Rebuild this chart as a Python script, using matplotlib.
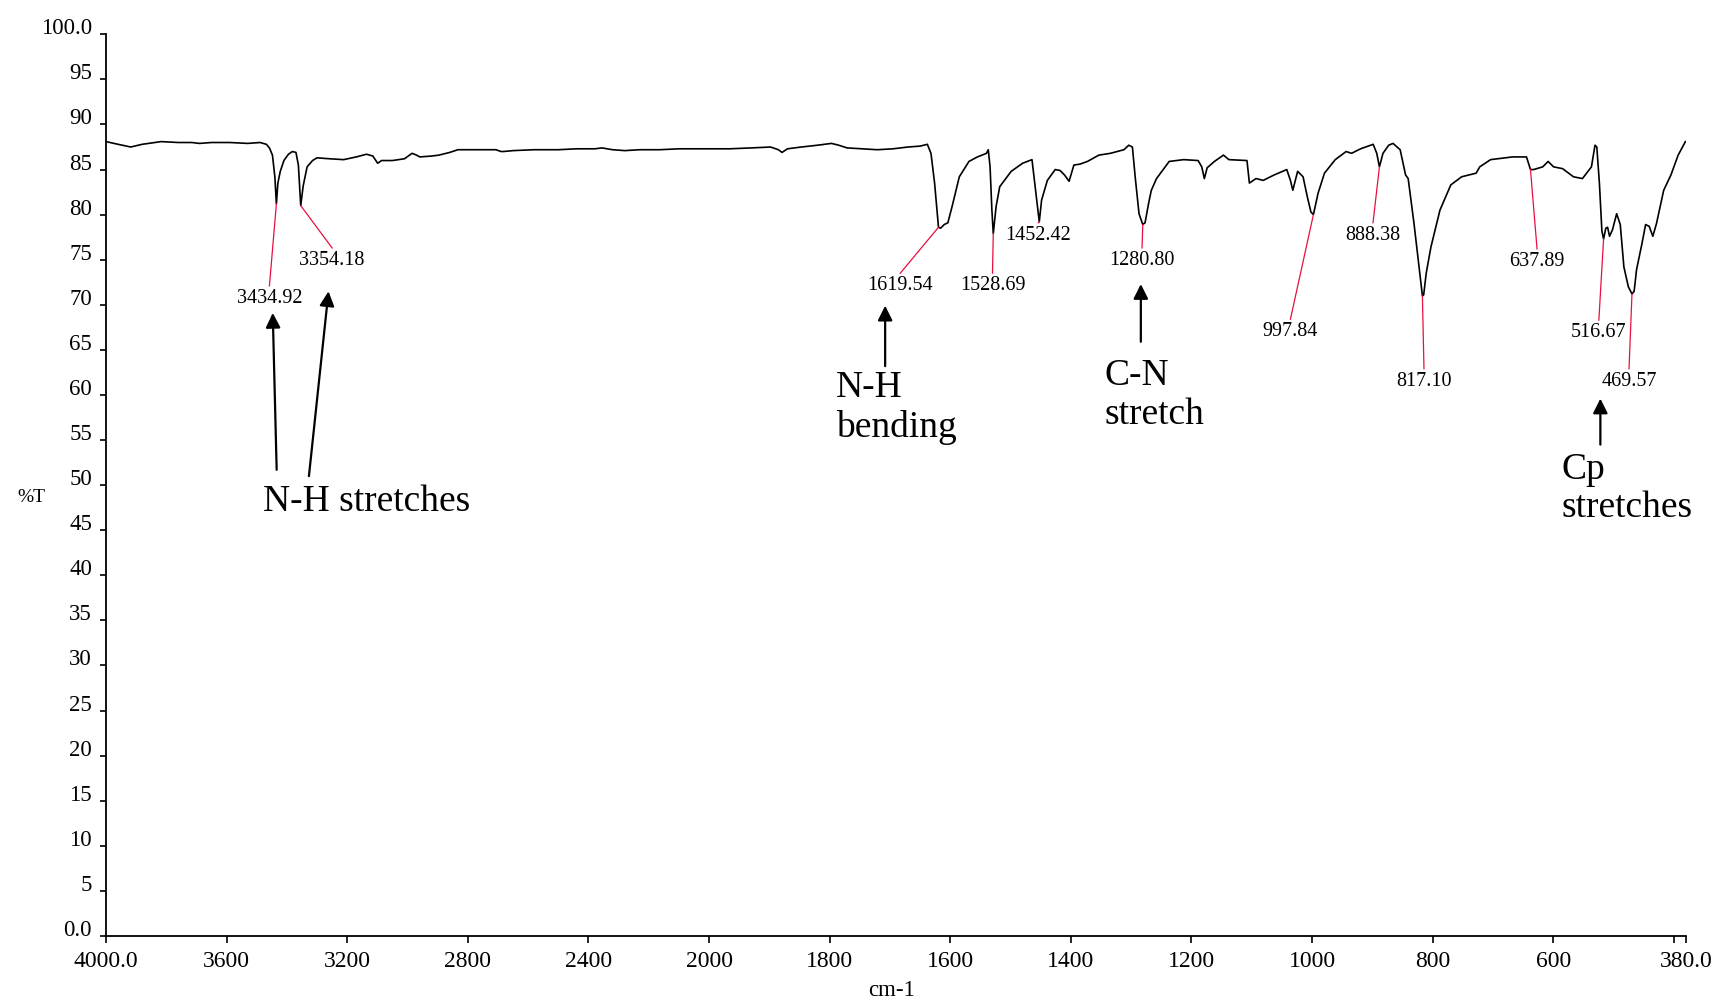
import numpy as np
import matplotlib
matplotlib.use("Agg")
import matplotlib.pyplot as plt

plt.rcParams['font.family'] = ['Liberation Serif', 'DejaVu Serif']

# IR spectrum, wavenumber (cm-1) vs %T
wavenumber = [
    4000, 3960, 3918, 3880, 3817, 3760, 3716, 3690, 3650, 3590, 3530, 3489,
    3468, 3458, 3448, 3440, 3434.92, 3430, 3422, 3410, 3395, 3382, 3370, 3362,
    3354.18, 3346, 3333, 3315, 3300, 3260, 3212, 3170, 3136, 3115, 3099, 3086,
    3050, 3010, 2985, 2970, 2959, 2920, 2896, 2860, 2833, 2780, 2707, 2690,
    2682, 2650, 2581, 2500, 2440, 2379, 2355, 2320, 2279, 2230, 2164, 2100,
    2062, 2000, 1967, 1930, 1898, 1885, 1879, 1870, 1847, 1820, 1797, 1785,
    1771, 1745, 1721, 1695, 1670, 1650, 1638, 1632, 1626, 1619.54, 1616, 1610,
    1604, 1597, 1585, 1569, 1555, 1540, 1537, 1534, 1531, 1528.69, 1524, 1518,
    1499, 1480, 1464.5, 1460, 1452.42, 1448.6, 1439, 1426, 1418, 1410.6, 1403,
    1395, 1385, 1372.6, 1353.6, 1334.5, 1312, 1304, 1298, 1293.4, 1287, 1280.80,
    1277, 1271, 1266.6, 1258, 1248, 1237, 1213, 1189, 1183, 1178.7, 1174, 1162,
    1147, 1138, 1108, 1104, 1093, 1081, 1063, 1042, 1036, 1032, 1024, 1015,
    1008, 1002, 997.84, 990, 979.5, 961.6, 943.6, 934.6, 919.6, 898.7, 892.8,
    888.38, 882.5, 873, 865.8, 854, 845, 840.7, 831, 824, 817.10, 815, 810.8,
    803, 788, 770, 752, 728, 722, 704, 668, 644.5, 637.89, 632.6, 617.6, 608.6,
    599.6, 584.6, 566.7, 551.7, 536.8, 530.9, 527.9, 523.6, 519.5, 516.67, 513,
    510, 506.8, 502, 495, 489, 483, 475.6, 469.57, 466, 462, 453, 447, 441, 435,
    429, 417, 405, 393, 381,
]
transmittance = [
    88.1, 87.8, 87.5, 87.8, 88.1, 88.0, 88.0, 87.9, 88.0, 88.0, 87.9, 88.0,
    87.8, 87.4, 86.6, 84.2, 81.2, 83.5, 84.8, 86.0, 86.7, 87.0, 86.9, 85.5,
    81.0, 83.2, 85.3, 86.0, 86.3, 86.2, 86.1, 86.4, 86.7, 86.5, 85.7, 86.0,
    86.0, 86.2, 86.8, 86.6, 86.4, 86.5, 86.6, 86.9, 87.2, 87.2, 87.2, 87.0,
    87.0, 87.1, 87.2, 87.2, 87.3, 87.3, 87.4, 87.2, 87.1, 87.2, 87.2, 87.3,
    87.3, 87.3, 87.3, 87.4, 87.5, 87.2, 86.9, 87.3, 87.5, 87.7, 87.9, 87.7,
    87.4, 87.3, 87.2, 87.3, 87.5, 87.6, 87.8, 86.8, 83.5, 78.6, 78.5, 78.9,
    79.1, 80.9, 84.2, 85.9, 86.4, 86.8, 87.2, 85.3, 80.5, 77.9, 80.9, 83.1,
    84.8, 85.7, 86.1, 83.5, 79.2, 81.6, 83.8, 85.0, 84.9, 84.4, 83.7,
    85.5, 85.6, 85.9, 86.6, 86.8, 87.2, 87.7, 87.5, 84.2, 80.1, 78.9,
    79.1, 81.3, 82.7, 84.0, 84.9, 85.9, 86.1, 86.0, 85.3, 84.0, 85.2, 85.9,
    86.6, 86.1, 86.0, 83.5, 84.0, 83.8, 84.4, 85.0, 83.8, 82.7, 84.8, 84.2,
    82.0, 80.3, 80.0, 82.4, 84.6, 86.1, 87.0, 86.8, 87.3, 87.8, 86.8,
    85.3, 86.8, 87.7, 87.9, 87.2, 84.4, 84.0, 79.0, 75.0, 71.0, 71.1, 73.5,
    76.4, 80.5, 83.3, 84.2, 84.6, 85.3, 86.1, 86.4, 86.4, 85.0, 85.0, 85.3, 85.9,
    85.3, 85.1, 84.2, 84.0, 85.3, 87.7, 87.5, 83.5, 78.2, 77.3, 78.5,
    78.6, 77.6, 78.3, 80.1, 78.9, 74.2, 72.0, 71.2, 71.5, 73.9, 76.8, 78.9, 78.7, 77.6,
    79.0, 82.7, 84.4, 86.6, 88.1,
]

# picked peaks and where their labels sit
peak_wn = [3434.92, 3354.18, 1619.54, 1528.69, 1452.42, 1280.80,
           997.84, 888.38, 817.10, 637.89, 516.67, 469.57]
label_wn = [3458, 3250, 1683, 1530, 1454, 1282, 1036, 899, 814.5, 627, 524.5, 474.5]
label_t = [70.7, 74.9, 72.1, 72.1, 77.7, 74.9, 67.0, 77.7, 61.5, 74.8, 66.9, 61.5]

# band assignments: text, anchor (wn, %T), alignment
band_text = ["N-H stretches", "N-H\nbending", "C-N\nstretch", "Cp\nstretches"]
band_pos = [(3134, 48.2), (1789, 58.6), (1344, 60.0), (586, 49.6)]
band_ha = ["center", "left", "left", "left"]
band_spacing = [1.0, 1.2, 1.18, 1.1]

# arrows from text to bands: (tail wn, tail %T, tip wn, tip %T)
arrows = [
    (3434, 51.7, 3447, 69.1),
    (3327, 51.0, 3262, 71.5),
    (1708, 63.2, 1708, 69.9),
    (1284, 65.9, 1284, 72.3),
    (522, 54.5, 522, 59.6),
]

xtick_values = [4000, 3600, 3200, 2800, 2400, 2000, 1800, 1600, 1400, 1200, 1000, 800, 600, 400, 380]
xtick_labels = ["4000.0", "3600", "3200", "2800", "2400", "2000", "1800", "1600",
                "1400", "1200", "1000", "800", "600", "", "380.0"]
ytick_values = list(range(0, 101, 5))
ytick_labels = ["0.0"] + [str(v) for v in ytick_values[1:-1]] + ["100.0"]


# above 2000 cm-1 the axis is compressed by half
def fwd(x):
    x = np.asarray(x, dtype=float)
    return np.where(x > 2000, 2000 + (x - 2000) / 2.0, x)


def inv(u):
    u = np.asarray(u, dtype=float)
    return np.where(u > 2000, 2000 + (u - 2000) * 2.0, u)


fig = plt.figure(figsize=(17.17, 10.02), dpi=100)
ax = fig.add_axes([106 / 1717, 66 / 1002, 1580 / 1717, 901.7 / 1002])
ax.set_xscale('function', functions=(fwd, inv))
ax.set_xlim(4000, 380)
ax.set_ylim(0, 100)

ax.plot(wavenumber, transmittance, color='black', lw=1.2)

wn_up = np.array(wavenumber)[::-1]
t_up = np.array(transmittance)[::-1]
for pk, lx, ly in zip(peak_wn, label_wn, label_t):
    py = np.interp(pk, wn_up, t_up)
    ax.plot([pk, lx], [py, ly + 1.4], color='#e8103f', lw=0.9)
    ax.text(lx, ly, "%.2f" % pk, ha='center', va='center', fontsize=14.5)

for x0, y0, x1, y1 in arrows:
    ax.annotate('', xy=(x1, y1), xytext=(x0, y0),
                arrowprops=dict(arrowstyle='-|>', color='black', lw=1.6,
                                mutation_scale=22, shrinkA=0, shrinkB=0))

for txt, (bx, by), ha, ls in zip(band_text, band_pos, band_ha, band_spacing):
    ax.text(bx, by, txt, ha=ha, va='center', fontsize=27, linespacing=ls,
            clip_on=False)

for side in ['top', 'right']:
    ax.spines[side].set_visible(False)
for side in ['left', 'bottom']:
    ax.spines[side].set_linewidth(1.3)

ax.set_xticks(xtick_values)
ax.set_xticklabels(xtick_labels)
ax.xaxis.set_minor_locator(matplotlib.ticker.NullLocator())
ax.set_yticks(ytick_values)
ax.set_yticklabels(ytick_labels)
ax.tick_params(axis='x', direction='out', length=5, width=1.2, pad=6, labelsize=17)
ax.tick_params(axis='y', direction='out', length=4, width=1.2, pad=6, labelsize=16.5)
for lab in ax.get_yticklabels():
    lab.set_verticalalignment('baseline')

ax.set_ylabel('%T', rotation=0, fontsize=14, ha='center', va='center')
ax.yaxis.set_label_coords(-0.0475, 0.486)
ax.set_xlabel('cm-1', fontsize=16.5, va='center')
ax.xaxis.set_label_coords(0.497, -0.06)

fig.savefig('out.png', dpi=100)
